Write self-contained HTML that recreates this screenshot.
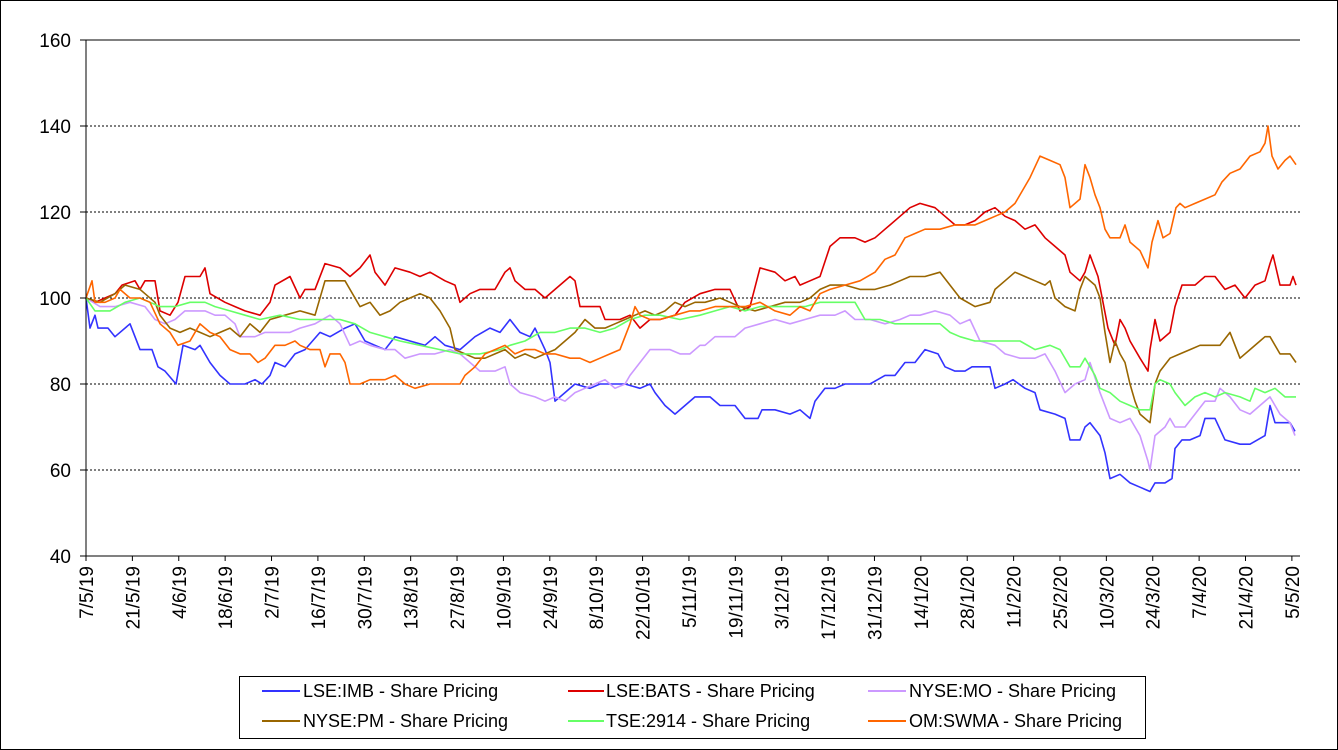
<!DOCTYPE html>
<html><head><meta charset="utf-8"><style>
body{margin:0;background:#fff}
svg{display:block;font-family:"Liberation Sans",Arial,sans-serif}
</style></head><body>
<svg id="s" width="1338" height="750" xmlns="http://www.w3.org/2000/svg">
<rect x="0.5" y="0.5" width="1337" height="749" fill="#fff" stroke="#000"/>
<g id="grid"></g>
<g id="series" fill="none" stroke-width="1.6" stroke-linejoin="round"></g>
<g id="axes"></g>
<rect x="239.5" y="676.5" width="906" height="62" fill="#fff" stroke="#000"/>
<g font-size="18">
<line x1="262" y1="691" x2="300" y2="691" stroke="#3333ff" stroke-width="2"/><text x="303" y="697">LSE:IMB - Share Pricing</text>
<line x1="568" y1="691" x2="604" y2="691" stroke="#dd0000" stroke-width="2"/><text x="606" y="697">LSE:BATS - Share Pricing</text>
<line x1="868" y1="691" x2="906" y2="691" stroke="#cc99ff" stroke-width="2"/><text x="909" y="697">NYSE:MO - Share Pricing</text>
<line x1="262" y1="721" x2="300" y2="721" stroke="#996600" stroke-width="2"/><text x="303" y="727">NYSE:PM - Share Pricing</text>
<line x1="568" y1="721" x2="604" y2="721" stroke="#66ff66" stroke-width="2"/><text x="606" y="727">TSE:2914 - Share Pricing</text>
<line x1="868" y1="721" x2="906" y2="721" stroke="#ff6600" stroke-width="2"/><text x="909" y="727">OM:SWMA - Share Pricing</text>
</g>
</svg>
<script>
const NS="http://www.w3.org/2000/svg";
const Y=v=>556-(v-40)*4.3;
function el(p,t,a,txt){const e=document.createElementNS(NS,t);for(const k in a)e.setAttribute(k,a[k]);if(txt!==undefined)e.textContent=txt;document.getElementById(p).appendChild(e);return e;}
for(let v=60;v<=160;v+=20){el("grid","line",{x1:86,x2:1300,y1:Y(v),y2:Y(v),stroke:"#000","stroke-width":1,"stroke-dasharray":v==160?"":"2,2"});}
el("axes","line",{x1:86,x2:86,y1:40,y2:556,stroke:"#000"});
el("axes","line",{x1:86,x2:1300,y1:556,y2:556,stroke:"#000"});
for(let v=40;v<=160;v+=20){el("axes","line",{x1:80,x2:86,y1:Y(v),y2:Y(v),stroke:"#000"});el("axes","text",{x:71,y:Y(v)+7,"text-anchor":"end","font-size":"19"},String(v));}
const labs=["7/5/19","21/5/19","4/6/19","18/6/19","2/7/19","16/7/19","30/7/19","13/8/19","27/8/19","10/9/19","24/9/19","8/10/19","22/10/19","5/11/19","19/11/19","3/12/19","17/12/19","31/12/19","14/1/20","28/1/20","11/2/20","25/2/20","10/3/20","24/3/20","7/4/20","21/4/20","5/5/20"];
labs.forEach((l,i)=>{const x=86+i*46.38;el("axes","line",{x1:x,x2:x,y1:556,y2:561,stroke:"#000"});el("axes","text",{x:0,y:0,"text-anchor":"end","font-size":"19",transform:`translate(${x+7},566) rotate(-90)`},l);});
const D={
"#3333ff":[[86,100],[90,93],[95,96],[98,93],[108,93],[115,91],[130,94],[140,88],[152,88],[158,84],[165,83],[176,80],[183,89],[195,88],[200,89],[210,85],[220,82],[230,80],[245,80],[255,81],[262,80],[270,82],[275,85],[285,84],[295,87],[305,88],[320,92],[330,91],[345,93],[355,94],[365,90],[375,89],[385,88],[395,91],[410,90],[425,89],[435,91],[445,89],[460,88],[475,91],[490,93],[500,92],[510,95],[520,92],[530,91],[535,93],[545,88],[550,85],[555,76],[565,78],[575,80],[590,79],[600,80],[610,80],[625,80],[640,79],[650,80],[655,78],[665,75],[675,73],[685,75],[695,77],[710,77],[720,75],[735,75],[745,72],[758,72],[762,74],[775,74],[790,73],[800,74],[810,72],[815,76],[825,79],[835,79],[845,80],[855,80],[870,80],[885,82],[895,82],[905,85],[915,85],[925,88],[938,87],[945,84],[955,83],[965,83],[972,84],[990,84],[995,79],[1005,80],[1013,81],[1025,79],[1035,78],[1040,74],[1055,73],[1065,72],[1070,67],[1080,67],[1085,70],[1090,71],[1100,68],[1105,64],[1110,58],[1120,59],[1130,57],[1140,56],[1150,55],[1155,57],[1165,57],[1172,58],[1175,65],[1182,67],[1190,67],[1200,68],[1205,72],[1215,72],[1225,67],[1240,66],[1250,66],[1265,68],[1270,75],[1275,71],[1285,71],[1290,71],[1295,69]],
"#dd0000":[[86,100],[95,99],[105,100],[115,101],[122,103],[135,104],[140,102],[145,104],[155,104],[160,97],[170,96],[178,99],[185,105],[200,105],[205,107],[210,101],[225,99],[235,98],[245,97],[260,96],[270,99],[275,103],[290,105],[300,100],[305,102],[315,102],[325,108],[340,107],[350,105],[360,107],[370,110],[375,106],[385,103],[395,107],[410,106],[420,105],[430,106],[445,104],[455,103],[460,99],[470,101],[480,102],[495,102],[505,106],[510,107],[515,104],[525,102],[535,102],[545,100],[555,102],[570,105],[575,104],[580,98],[590,98],[600,98],[605,95],[620,95],[630,96],[640,93],[650,95],[660,95],[675,96],[685,99],[700,101],[715,102],[730,102],[740,97],[750,98],[760,107],[775,106],[785,104],[795,105],[800,103],[810,104],[820,105],[830,112],[840,114],[855,114],[865,113],[875,114],[885,116],[900,119],[910,121],[920,122],[935,121],[945,119],[955,117],[965,117],[975,118],[985,120],[995,121],[1005,119],[1015,118],[1025,116],[1035,117],[1045,114],[1055,112],[1065,110],[1070,106],[1080,104],[1085,106],[1090,110],[1098,105],[1103,99],[1108,93],[1115,89],[1120,95],[1125,93],[1130,90],[1140,86],[1148,83],[1150,88],[1155,95],[1160,90],[1170,92],[1175,98],[1182,103],[1195,103],[1200,104],[1205,105],[1215,105],[1225,102],[1235,103],[1245,100],[1255,103],[1265,104],[1270,108],[1273,110],[1280,103],[1290,103],[1293,105],[1296,103]],
"#cc99ff":[[86,100],[100,98],[115,98],[130,99],[145,98],[155,95],[165,94],[175,95],[185,97],[205,97],[215,96],[225,96],[235,94],[240,91],[255,91],[265,92],[275,92],[290,92],[300,93],[315,94],[330,96],[340,94],[350,89],[360,90],[370,89],[385,88],[395,88],[405,86],[420,87],[435,87],[450,88],[460,87],[470,85],[480,83],[495,83],[505,84],[510,80],[520,78],[535,77],[545,76],[555,77],[565,76],[575,78],[585,79],[595,80],[605,81],[615,79],[625,80],[630,82],[640,85],[650,88],[660,88],[670,88],[680,87],[690,87],[700,89],[705,89],[715,91],[725,91],[735,91],[745,93],[760,94],[775,95],[790,94],[805,95],[820,96],[835,96],[845,97],[855,95],[870,95],[885,94],[900,95],[910,96],[920,96],[935,97],[950,96],[960,94],[970,95],[980,90],[995,89],[1005,87],[1020,86],[1035,86],[1045,87],[1055,83],[1065,78],[1075,80],[1085,81],[1090,85],[1100,78],[1110,72],[1120,71],[1130,72],[1140,68],[1148,62],[1150,60],[1155,68],[1165,70],[1170,72],[1175,70],[1185,70],[1195,73],[1205,76],[1215,76],[1220,79],[1230,77],[1240,74],[1250,73],[1260,75],[1270,77],[1280,73],[1290,71],[1295,68]],
"#996600":[[86,100],[100,99],[115,101],[125,103],[140,102],[145,101],[155,99],[160,96],[170,93],[180,92],[190,93],[200,92],[210,91],[220,92],[230,93],[240,91],[250,94],[260,92],[270,95],[285,96],[300,97],[315,96],[325,104],[335,104],[345,104],[355,100],[360,98],[370,99],[380,96],[390,97],[400,99],[410,100],[420,101],[430,100],[440,97],[450,93],[455,88],[465,87],[475,86],[485,86],[495,87],[505,88],[515,86],[525,87],[535,86],[545,87],[555,88],[565,90],[575,92],[585,95],[595,93],[605,93],[615,94],[625,95],[635,96],[645,97],[655,96],[665,97],[675,99],[685,98],[695,99],[705,99],[720,100],[730,99],[740,98],[755,97],[770,98],[785,99],[800,99],[810,100],[820,102],[830,103],[845,103],[860,102],[875,102],[890,103],[900,104],[910,105],[925,105],[940,106],[950,103],[960,100],[975,98],[990,99],[995,102],[1005,104],[1015,106],[1025,105],[1035,104],[1045,103],[1050,104],[1055,100],[1065,98],[1075,97],[1080,102],[1085,105],[1095,103],[1100,100],[1105,92],[1110,85],[1115,90],[1120,87],[1125,85],[1130,80],[1135,76],[1140,73],[1150,71],[1155,80],[1160,83],[1170,86],[1180,87],[1190,88],[1200,89],[1210,89],[1220,89],[1230,92],[1240,86],[1250,88],[1260,90],[1265,91],[1270,91],[1280,87],[1290,87],[1296,85]],
"#66ff66":[[86,100],[95,97],[110,97],[125,99],[140,100],[150,99],[160,98],[175,98],[190,99],[205,99],[215,98],[230,97],[245,96],[260,95],[280,96],[300,95],[320,95],[340,95],[355,94],[370,92],[385,91],[400,90],[420,89],[440,88],[460,87],[480,87],[500,88],[510,89],[525,90],[540,92],[555,92],[570,93],[585,93],[600,92],[615,93],[630,95],[645,96],[660,96],[680,95],[700,96],[715,97],[730,98],[745,97],[760,98],[775,98],[790,98],[805,98],[820,99],[840,99],[855,99],[865,95],[880,95],[895,94],[910,94],[925,94],[940,94],[950,92],[960,91],[975,90],[990,90],[1005,90],[1020,90],[1035,88],[1050,89],[1060,88],[1070,84],[1080,84],[1085,86],[1095,82],[1100,79],[1110,78],[1120,76],[1130,75],[1140,74],[1150,74],[1155,80],[1160,81],[1170,80],[1175,78],[1185,75],[1195,77],[1205,78],[1215,77],[1225,78],[1240,77],[1250,76],[1255,79],[1265,78],[1275,79],[1285,77],[1296,77]],
"#ff6600":[[86,100],[92,104],[95,99],[105,99],[115,100],[120,102],[130,100],[140,100],[150,99],[160,94],[170,92],[178,89],[190,90],[200,94],[210,92],[220,91],[230,88],[240,87],[250,87],[258,85],[265,86],[275,89],[285,89],[295,90],[300,89],[310,88],[320,88],[325,84],[330,87],[340,87],[345,85],[350,80],[360,80],[370,81],[385,81],[395,82],[405,80],[415,79],[430,80],[440,80],[450,80],[460,80],[465,82],[475,84],[485,87],[495,88],[505,89],[515,87],[525,88],[535,88],[545,87],[555,87],[570,86],[580,86],[590,85],[600,86],[610,87],[620,88],[630,94],[635,98],[640,96],[650,95],[660,95],[675,96],[690,97],[700,97],[715,98],[730,98],[745,98],[760,99],[775,97],[790,96],[800,98],[810,97],[820,101],[830,102],[845,103],[860,104],[875,106],[885,109],[895,110],[905,114],[915,115],[925,116],[940,116],[955,117],[965,117],[975,117],[985,118],[995,119],[1005,120],[1015,122],[1030,128],[1040,133],[1050,132],[1060,131],[1065,128],[1070,121],[1080,123],[1085,131],[1090,128],[1095,124],[1100,121],[1105,116],[1110,114],[1120,114],[1125,117],[1130,113],[1140,111],[1148,107],[1152,113],[1158,118],[1163,114],[1170,115],[1176,121],[1180,122],[1185,121],[1195,122],[1205,123],[1215,124],[1222,127],[1230,129],[1240,130],[1250,133],[1260,134],[1265,136],[1268,140],[1272,133],[1278,130],[1285,132],[1290,133],[1296,131]]
};
for(const c in D){el("series","polyline",{stroke:c,points:D[c].map(p=>p[0]+","+Y(p[1]).toFixed(1)).join(" ")});}
</script>
</body></html>
